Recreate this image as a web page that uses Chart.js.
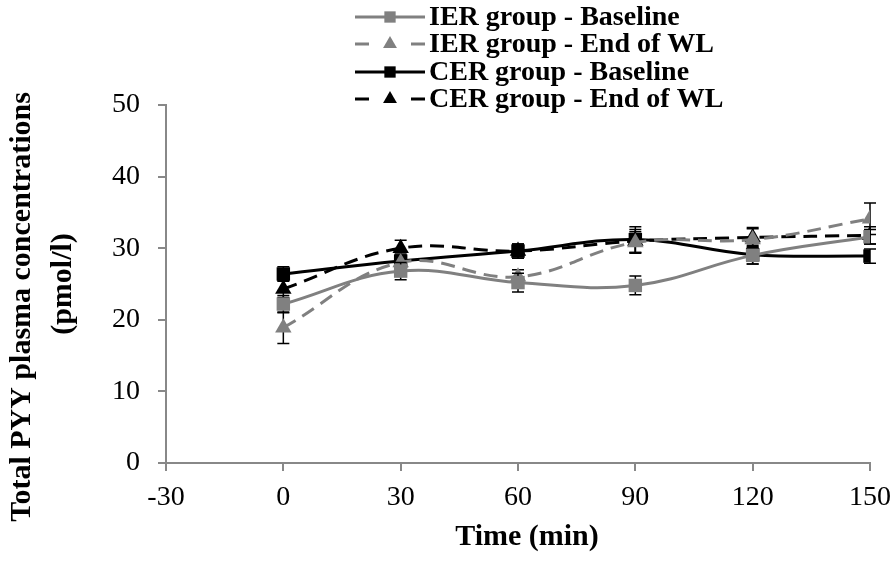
<!DOCTYPE html>
<html>
<head>
<meta charset="utf-8">
<script src="https://cdn.jsdelivr.net/npm/chart.js@4.4.1/dist/chart.umd.min.js"></script>
<style>
  html, body { margin: 0; padding: 0; background: #fff; }
  #wrap { width: 894px; height: 565px; }
</style>
</head>
<body>
<div id="wrap"><canvas id="pyyChart" width="894" height="565"></canvas></div>
<script>
// Data
const times = [0, 30, 60, 90, 120, 150];
const ierBaseline = [22.2, 26.8, 25.2, 24.8, 29.0, 31.6];
const ierBaselineErr = [1.2, 1.2, 1.3, 1.3, 1.2, 1.0];
const ierEndWL = [18.9, 28.0, 26.0, 30.8, 31.2, 34.1];
const ierEndWLErr = [2.2, 1.0, 1.0, 1.5, 1.5, 2.2];
const cerBaseline = [26.4, 28.2, 29.6, 31.2, 29.1, 28.9];
const cerBaselineErr = [1.0, 1.0, 1.0, 1.8, 1.3, 1.0];
const cerEndWL = [24.3, 30.0, 29.6, 31.0, 31.5, 31.8];
const cerEndWLErr = [1.2, 1.1, 1.0, 1.6, 1.4, 1.2];
const seriesNames = ['IER group - Baseline', 'IER group - End of WL', 'CER group - Baseline', 'CER group - End of WL'];
const xTitle = 'Time (min)';
const yTitle = ['Total PYY plasma concentrations', '(pmol/l)'];

const GREY = '#808080';
const BLACK = '#000000';
const FONT = "'Liberation Serif', 'Times New Roman', serif";

function toPoints(vals, errs) {
    return times.map((t, i) => ({ x: t, y: vals[i], err: errs[i] }));
}

function makeSet(label, vals, errs, color, dashed, shape) {
    return {
        label: label,
        data: toPoints(vals, errs),
        borderColor: color,
        backgroundColor: color,
        borderWidth: 3,
        borderDash: dashed ? [14, 8] : [],
        tension: 0.4,
        pointStyle: shape,
        pointRadius: 9.5,
        pointBorderWidth: 0,
        pointBackgroundColor: color,
        fill: false,
    };
}

// error bars, drawn under each dataset's line and markers
const errorBars = {
    id: 'errorBars',
    beforeDatasetDraw(chart, args) {
        const ctx = chart.ctx;
        const meta = args.meta;
        const yScale = chart.scales.y;
        ctx.save();
        ctx.strokeStyle = '#000';
        ctx.lineWidth = 1.5;
        meta.data.forEach((pt, i) => {
            const d = chart.data.datasets[args.index].data[i];
            const top = yScale.getPixelForValue(d.y + d.err);
            const bot = yScale.getPixelForValue(d.y - d.err);
            ctx.beginPath();
            ctx.moveTo(pt.x, top);
            ctx.lineTo(pt.x, bot);
            ctx.moveTo(pt.x - 6, top);
            ctx.lineTo(pt.x + 6, top);
            ctx.moveTo(pt.x - 6, bot);
            ctx.lineTo(pt.x + 6, bot);
            ctx.stroke();
        });
        ctx.restore();
    }
};

// legend with line + marker, like the original
const lineLegend = {
    id: 'lineLegend',
    afterDraw(chart) {
        const ctx = chart.ctx;
        const rows = [17, 44, 72, 99];
        ctx.save();
        chart.data.datasets.forEach((ds, i) => {
            const y = rows[i];
            ctx.strokeStyle = ds.borderColor;
            ctx.lineWidth = 3;
            ctx.beginPath();
            if (ds.borderDash.length) {
                ctx.moveTo(355, y); ctx.lineTo(369, y);
                ctx.moveTo(411, y); ctx.lineTo(425, y);
            } else {
                ctx.moveTo(355, y); ctx.lineTo(425, y);
            }
            ctx.stroke();
            ctx.fillStyle = ds.backgroundColor;
            Chart.helpers.drawPoint(ctx, { pointStyle: ds.pointStyle, radius: 8, borderWidth: 0 }, 390, y);
            ctx.fillStyle = '#000';
            ctx.font = 'bold 28px ' + FONT;
            ctx.textBaseline = 'middle';
            ctx.textAlign = 'left';
            ctx.fillText(ds.label, 429, y + 1);
        });
        ctx.restore();
    }
};

// axis titles placed like the original
const axisTitles = {
    id: 'axisTitles',
    afterDraw(chart) {
        const ctx = chart.ctx;
        ctx.save();
        ctx.fillStyle = '#000';
        ctx.font = 'bold 30px ' + FONT;
        ctx.textAlign = 'center';
        ctx.textBaseline = 'middle';
        ctx.fillText(xTitle, 527, 537);
        const ySpots = [[22, 307], [63, 284]];
        yTitle.forEach((line, i) => {
            ctx.save();
            ctx.translate(ySpots[i][0], ySpots[i][1]);
            ctx.rotate(-Math.PI / 2);
            ctx.fillText(line, 0, 0);
            ctx.restore();
        });
        ctx.restore();
    }
};

const ctx = document.getElementById('pyyChart').getContext('2d');
const chart = new Chart(ctx, {
    type: 'line',
    data: {
        datasets: [
            makeSet(seriesNames[0], ierBaseline, ierBaselineErr, GREY, false, 'rect'),
            makeSet(seriesNames[1], ierEndWL, ierEndWLErr, GREY, true, 'triangle'),
            makeSet(seriesNames[2], cerBaseline, cerBaselineErr, BLACK, false, 'rect'),
            makeSet(seriesNames[3], cerEndWL, cerEndWLErr, BLACK, true, 'triangle'),
        ],
    },
    options: {
        responsive: false,
        animation: false,
        layout: { padding: { top: 105, right: 24, left: 0, bottom: 0 } },
        plugins: {
            legend: { display: false },
            tooltip: { enabled: false },
        },
        scales: {
            x: {
                type: 'linear',
                min: -30,
                max: 150,
                ticks: { stepSize: 30, color: '#000', font: { family: FONT, size: 28 }, padding: 10, maxRotation: 0 },
                grid: { drawOnChartArea: false, drawTicks: true, tickLength: 8, color: '#888', lineWidth: 2 },
                border: { color: '#888', width: 2 },
                afterFit(scale) {
                    scale.height = 102;
                    scale.paddingLeft = 0;
                    scale.paddingRight = 0;
                },
            },
            y: {
                min: 0,
                max: 50,
                ticks: { stepSize: 10, color: '#000', font: { family: FONT, size: 28 }, padding: 18 },
                grid: { drawOnChartArea: false, drawTicks: true, tickLength: 8, color: '#888', lineWidth: 2 },
                border: { color: '#888', width: 2 },
                afterFit(scale) {
                    scale.width = 166;
                    scale.paddingTop = 0;
                    scale.paddingBottom = 0;
                },
            },
        },
    },
    plugins: [errorBars, lineLegend, axisTitles],
});
</script>
</body>
</html>
